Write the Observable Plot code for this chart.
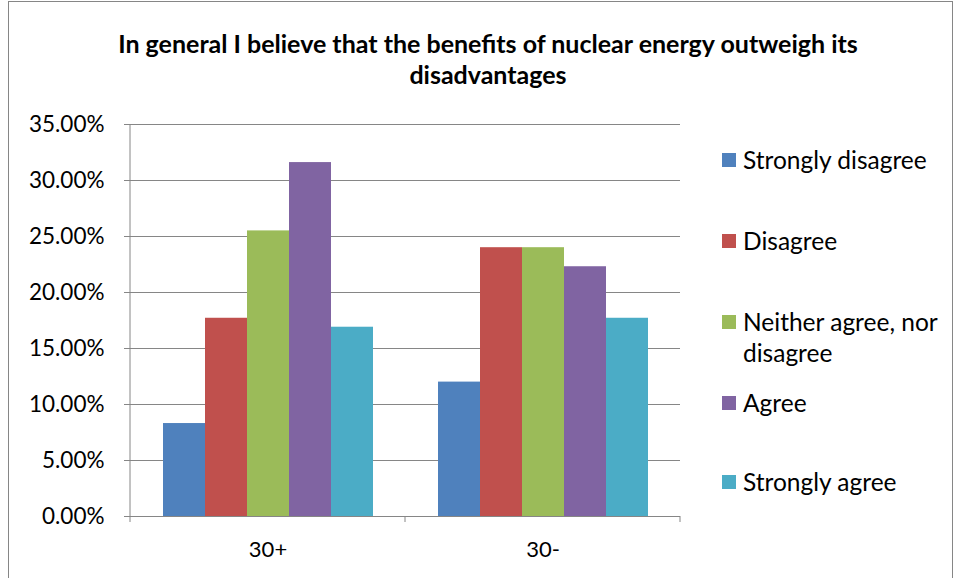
<!DOCTYPE html>
<html><head><meta charset="utf-8">
<script src="https://cdn.jsdelivr.net/npm/d3@7"></script>
<script src="https://cdn.jsdelivr.net/npm/@observablehq/plot@0.6"></script>
<style>
body{margin:0;background:#fff;font-family:Lato,"Open Sans",sans-serif;color:#000}
#wrap{position:relative;width:958px;height:578px;overflow:hidden;background:#fff}
#border{position:absolute;left:8px;top:1px;width:945px;height:620px;border:1.5px solid #868686;box-sizing:border-box}
#title{position:absolute;left:0;width:976px;top:28px;text-align:center;font-weight:bold;font-size:25px;line-height:31px}
#chart{position:absolute;left:0;top:100px}
.item{position:absolute;left:722px;width:230px;font-size:24.5px;line-height:31px}
.sw{position:absolute;left:0;top:9px;width:14px;height:14px}
.lbl{position:absolute;left:21px;top:0;width:205px}
</style></head>
<body>
<div id="wrap">
  <div id="border"></div>
  <div id="title">In general I believe that the benefits of nuclear energy outweigh its<br>disadvantages</div>
  <div id="chart"></div>
  <div id="legend"></div>
</div>
<script>
const groups = ["30+", "30-"];
const series = ["Strongly disagree", "Disagree", "Neither agree, nor disagree", "Agree", "Strongly agree"];
const values30plus = [8.3, 17.7, 25.5, 31.6, 16.9];
const values30minus = [12.0, 24.0, 24.0, 22.3, 17.7];
const colors = ["#4F81BD", "#C0504D", "#9BBB59", "#8064A2", "#4BACC6"];
const yTicks = [0, 5, 10, 15, 20, 25, 30, 35];

const data = [];
series.forEach((s, i) => {
  data.push({group: groups[0], series: s, value: values30plus[i]});
  data.push({group: groups[1], series: s, value: values30minus[i]});
});

const axisColor = "#868686";
const chart = Plot.plot({
  width: 958, height: 478,
  marginTop: 24, marginBottom: 62, marginLeft: 129, marginRight: 278,
  style: {fontFamily: "Lato, 'Open Sans', sans-serif", color: "#000", background: "transparent"},
  fx: {domain: groups, padding: 0, label: null},
  x: {domain: series, axis: null, paddingInner: 0, paddingOuter: 0.75},
  y: {domain: [0, 35], axis: null},
  color: {domain: series, range: colors},
  marks: [
    Plot.gridY(yTicks, {stroke: axisColor, strokeOpacity: 1, strokeWidth: 1}),
    Plot.barY(data, {fx: "group", x: "series", y: "value", fill: "series"}),
    Plot.ruleY([0], {stroke: axisColor, strokeWidth: 1}),
    Plot.axisY(yTicks, {anchor: "left", tickSize: 6, tickPadding: 20, stroke: axisColor, fill: "#000", fontSize: 22.5, tickFormat: d => d.toFixed(2) + "%", label: null}),
    Plot.axisFx({anchor: "bottom", tickSize: 0, tickPadding: 25, fontSize: 22, fill: "#000", label: null})
  ]
});
document.getElementById("chart").appendChild(chart);

// axis lines and category boundary ticks, positioned from Plot's own scales
const fx = chart.scale("fx"), y = chart.scale("y");
const svg = d3.select(chart);
const x0 = fx.apply(groups[0]);
const y0 = y.apply(0), yTop = y.apply(35);
svg.append("line").attr("x1", x0).attr("x2", x0).attr("y1", yTop).attr("y2", y0).attr("stroke", axisColor);
const bounds = groups.map(g => fx.apply(g)).concat([fx.apply(groups[groups.length - 1]) + fx.bandwidth]);
bounds.forEach(b => {
  svg.append("line").attr("x1", b).attr("x2", b).attr("y1", y0).attr("y2", y0 + 6).attr("stroke", axisColor);
});

// legend
const legendCenters = [160, 241, 322, 403, 482];
const legend = document.getElementById("legend");
series.forEach((s, i) => {
  const it = document.createElement("div");
  it.className = "item";
  it.style.top = (legendCenters[i] - 16) + "px";
  it.innerHTML = `<div class="sw" style="background:${colors[i]}"></div><div class="lbl">${s}</div>`;
  legend.appendChild(it);
});
</script>
</body></html>
